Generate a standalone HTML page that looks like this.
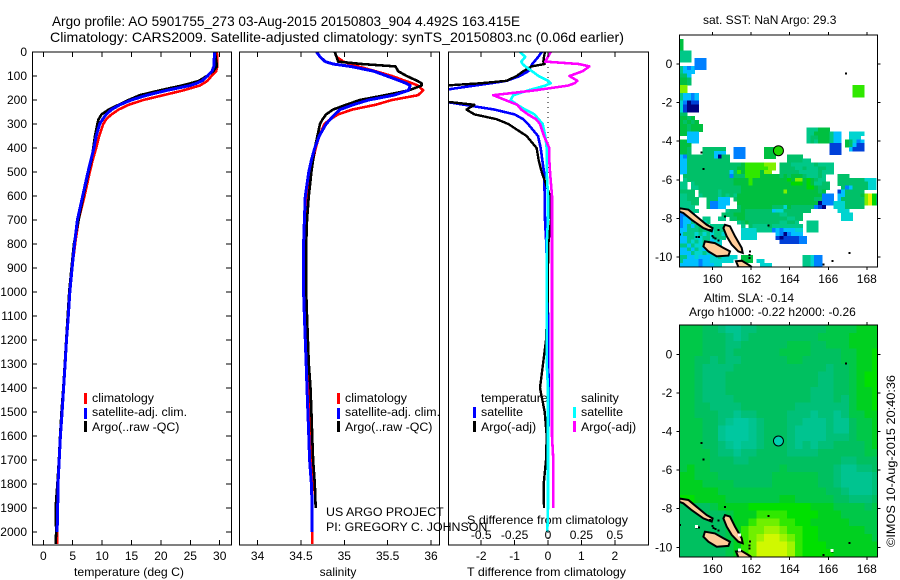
<!DOCTYPE html>
<html lang="en">
<head>
<meta charset="utf-8">
<title>Argo profile 5901755_273</title>
<style>
html,body{margin:0;padding:0;background:#fff;width:900px;height:580px;overflow:hidden}
svg{display:block}
text{font-family:"Liberation Sans",sans-serif;font-size:12px;fill:#000}
text.lg{font-size:12.4px}
</style>
</head>
<body>
<svg id="chart" xmlns="http://www.w3.org/2000/svg" width="900" height="580" viewBox="0 0 900 580">
  <text x="52" y="26" textLength="468" lengthAdjust="spacingAndGlyphs" style="font-size:14px">Argo profile: AO 5901755_273 03-Aug-2015 20150803_904 4.492S 163.415E</text>
  <text x="50" y="42" textLength="574" lengthAdjust="spacingAndGlyphs" style="font-size:14px">Climatology: CARS2009. Satellite-adjusted climatology: synTS_20150803.nc (0.06d earlier)</text>
  <text x="74" y="576" textLength="110" lengthAdjust="spacingAndGlyphs">temperature (deg C)</text>
  <text x="338" y="576" text-anchor="middle">salinity</text>
  <text x="467" y="576" textLength="159" lengthAdjust="spacingAndGlyphs">T difference from climatology</text>
  <text x="467" y="524" textLength="161" lengthAdjust="spacingAndGlyphs">S difference from climatology</text>
  <text class="lg" x="326" y="516">US ARGO PROJECT</text>
  <text class="lg" x="326" y="531">PI: GREGORY C. JOHNSON</text>
  <text x="703" y="24">sat. SST: NaN Argo: 29.3</text>
  <text x="704" y="302">Altim. SLA: -0.14</text>
  <text x="689" y="316">Argo h1000: -0.22 h2000: -0.26</text>
  <text transform="translate(895,547) rotate(-90)" textLength="172" lengthAdjust="spacingAndGlyphs">©IMOS 10-Aug-2015 20:40:36</text>

  <g>
    <rect x="84" y="393" width="3" height="11" fill="#f00"/>
    <text class="lg" x="92" y="402">climatology</text>
    <rect x="84" y="408" width="3" height="11" fill="#00f"/>
    <text class="lg" x="92" y="416">satellite-adj. clim.</text>
    <rect x="84" y="421" width="3" height="11" fill="#000"/>
    <text class="lg" x="92" y="431">Argo(..raw -QC)</text>
  </g>
  <g>
    <rect x="337" y="393" width="3" height="11" fill="#f00"/>
    <text class="lg" x="345" y="402">climatology</text>
    <rect x="337" y="408" width="3" height="11" fill="#00f"/>
    <text class="lg" x="345" y="416">satellite-adj. clim.</text>
    <rect x="337" y="421" width="3" height="11" fill="#000"/>
    <text class="lg" x="345" y="431">Argo(..raw -QC)</text>
  </g>
  <g id="diff-legend"></g>
</svg>
<script>
/* ---------- profile data ---------- */
var depths = [0,20,40,50,60,80,100,120,130,140,160,180,200,220,240,260,280,300,350,400,450,500,600,700,800,900,1000,1100,1200,1300,1400,1500,1600,1700,1800,1900,2000,2050];
var tempClim = [29.5,29.6,29.6,29.6,29.6,29.4,28.6,27.9,27.3,26.6,23.8,20.4,17,14.5,12.8,11.6,10.7,10.2,9.5,9,8.4,7.9,7,6,5.4,4.9,4.5,4.25,3.95,3.7,3.45,3.2,2.9,2.7,2.5,2.4,2.35,2.35];
var tempSat = [29.1,29.1,29,29,29,28.7,27.9,27,26.1,24.9,21,17.6,15,13,11.6,10.7,10.1,9.6,9,8.6,8.1,7.6,6.7,5.8,5.3,4.9,4.5,4.25,3.95,3.7,3.45,3.2,2.9,2.7,2.5,2.45,2.35,null];
var tempArgo = [29.2,29.3,29.4,29.5,29.5,28.9,27.8,26.5,25.1,23.5,19.8,16.4,14.5,12.8,11.1,9.9,9.4,9.2,8.8,8.5,8.2,7.7,6.8,6,5.2,4.8,4.4,4.15,3.9,3.65,3.4,3.1,2.85,2.65,2.4,2.1,2.2,2.1];
var salClim = [34.89,34.91,34.99,35.07,35.16,35.36,35.55,35.7,35.78,35.85,35.91,35.85,35.55,35.36,35.09,34.93,34.84,34.77,34.71,34.67,34.64,34.61,34.57,34.55,34.54,34.54,34.54,34.55,34.56,34.57,34.58,34.59,34.6,34.61,34.63,34.63,34.63,34.63];
var salSat = [34.68,34.72,34.78,34.87,35.07,35.34,35.49,35.64,35.71,35.76,35.74,35.57,35.28,35.1,34.95,34.89,34.84,34.79,34.71,34.66,34.62,34.59,34.55,34.54,34.53,34.53,34.53,34.54,34.55,34.56,34.57,34.58,34.59,34.6,34.62,34.63,34.63,null];
var salArgo = [34.89,34.91,34.93,35.2,35.59,35.62,35.72,35.84,35.89,35.89,35.74,35.47,35.18,35.02,34.87,34.79,34.75,34.72,34.69,34.66,34.64,34.62,34.59,34.57,34.56,34.56,34.56,34.57,34.58,34.59,34.61,34.62,34.63,34.64,34.66,34.67,null,null];
var diffTSat = [-0.19,-0.29,-0.41,-0.47,-0.51,-0.59,-0.84,-1.24,-1.7,-2.2,-3.2,-5,-3.4,-2.5,-1.6,-1,-0.74,-0.6,-0.3,-0.22,-0.17,-0.12,-0.1,-0.09,-0.05,-0.03,-0.01,0,0.01,0.01,0.02,0.02,0.01,0.01,0,null,null,null];
var diffTArgo = [-0.09,-0.12,-0.14,-0.1,-0.49,-0.74,-0.94,-1.24,-2,-3.1,-4,-4,-3.5,-2.2,-2.44,-2.2,-1.54,-1.19,-0.64,-0.34,-0.28,-0.19,0.06,0.09,0.01,0,0,-0.03,-0.06,-0.15,-0.24,-0.1,-0.04,-0.06,-0.13,-0.12,null,null];
var diffSSat = [-0.21,-0.17,-0.2,-0.19,-0.17,-0.12,-0.07,0,0.02,-0.02,-0.15,-0.26,-0.28,-0.23,-0.17,-0.1,-0.07,-0.04,-0.02,-0.01,-0.01,-0.01,0,0,-0.01,-0.01,-0.01,-0.01,-0.01,-0.01,0,0,0,0,0,0,-0.005,null];
var diffSArgo = [0.02,0,-0.02,0.23,0.31,0.26,0.16,0.22,0.2,0.15,-0.1,-0.41,-0.32,-0.23,-0.2,-0.15,-0.09,-0.06,-0.03,0.01,0.01,0.015,0.03,0.03,0.03,0.03,0.03,0.03,0.03,0.03,0.03,0.03,0.03,0.04,0.04,0.04,null,null];

/* ---------- axis tick values ---------- */
var depthTicks = [0,100,200,300,400,500,600,700,800,900,1000,1100,1200,1300,1400,1500,1600,1700,1800,1900,2000];
var tempTicks = [0,5,10,15,20,25,30];
var salTicks = [34,34.5,35,35.5,36];
var diffTTicks = [-2,-1,0,1,2];
var diffSTicks = [-0.5,-0.25,0,0.25,0.5];
var lonTicks = [160,162,164,166,168];
var latTicks = [0,-2,-4,-6,-8,-10];
var argoFloat = [163.415,-4.492];

/* ---------- SST map: one char per 0.2 degree cell, '.' = no data ---------- */
var sstLevels = {a:'#000080',b:'#0040d8',c:'#0080ff',d:'#00c0ff',e:'#00d4d0',f:'#00c888',g:'#00c068',h:'#00c040',i:'#00d800',j:'#30e800',k:'#80f000',l:'#e8f000'};
var sstRows = [
"",
"h",
"h",
"h",
"fff",
"fff",
"fff.ccc",
"....ccc",
"fdcdccc",
"fddd",
"ggd",
"hhg",
"hhg",
"kk........ .......... .......... .......... .....jjj",
"kk........ .......... .......... .......... .....jjj",
"fddcd..... .......... .......... .......... .....jjj",
"fddcd",
"ecabb",
"ebaaa",
"ebaaa",
"gg",
"hhgh",
"hghgh",
"hhghhh",
"hhghhh.... .......... .......... ...fffhhh.",
"hhddd..... .......... .......... ...ffhhhhf dd..eeee",
"..ddd..... .......... .......... ...fgghhhf dd..eee",
"hhddd..... .......... .......... ...fgfhhhf dd.hgecd",
"hhh....... .......... .......... .........b bb.hgdbb",
"hhg...gggg gg..ccc... ..hhh..... .........b bb..dbbb",
"hhg...gggd dd..ccc... ..hhh..... .........b bb",
"dcgggggggd agg.ccc... ..hhh...gg gg",
"ddgggggggg ggg....... ........gg ggff",
"ddgggggggg gggggghjjj jjkkk.gggf fffffgffff",
"ddgggggggg ggggghhjjj jjjkk.gggg ffgfffggff",
"ddgggggggg gggdgjhjjj jhkk..gggg gfffffgfff",
".ggggggggg gggcgggjjj jhhhhhghgh hhgfffgf.. .ggg",
".fgggggggg gggghhhhjh hhhhhhhhih kkhihgff.. .gggggggee e",
"ff.fgggggg gggghhhhjh hhhhhhhhhi iihihffgg. .gggggggge e",
"ff.ffggggg gggggghhhh hhhhhhhhhh hhhiihggg. ..gcdgggge e",
"gggg.ggggg fggggghhhh hhhhhhhkhh hhhhhhgh.. .bdggggg",
"ffgg.fgggg fgfgfhhhhh hhhhhhhhhh hhhhhhhccc .ddgggghkl ig",
"ffggg..ggg ddd.ghhhhh hhhhhhhhhh hhhhhggccc .dggggggkl ig",
"fffgg..gcc ddd..hhhhh hhhhhhhhhh hhhhhhaccc eeegggggkl ig",
"ffff...gcc dd...ghhhh hhhhgggehg gggggcba.. eeeggggg",
"effff..... ..fggghggg ggggdeeggg gggg...... .eee",
"ccfe...... .ggghhhggg ggggggffgg gg........ ..eee",
"cdde..ff.. ff.gghhggg ggggggggff gg........ ..eee",
"cddf.eef.. .....fghgg ggggggffgg f..fff....",
"cdfdfgf.ff ff....f.gf fffgffffff ff.fff....",
"ddfffgffef ff....eeee ffffcdcddd ee.fff....",
"dfffefefef fe....eeee .....dcacd dd",
"ddffeeffef ff....eeee .....babbb bcc",
"ddfefeffde e......... ......bbbb bcc",
"ffdfeefdfe e",
"ddfdfeddfe e",
"dddfeefedd e",
"ffddedddee feeee.hhh. .......... ..ffecc",
"fddddcddee eeee..hhh. ee........ ..ffecc",
"dddddcddde e....gg... .eee...... ..ffecc"
];

/* ---------- sea level map: one char per 0.4 degree cell ---------- */
var slaLevels = {'0':'#00c8a0','1':'#00c490','2':'#00c078','3':'#00c060','4':'#00c848','5':'#00d020','6':'#00e000','7':'#30e800','8':'#70f000','9':'#a0f400','a':'#d0f800'};
var slaRows = [
"44433211223333333334444555",
"44433321233333333344445555",
"44433322333333444334445555",
"44433323333334444333344556",
"44332322333333443333344556",
"44322223333333333332334556",
"44322233333333333322334566",
"44322233333333333322334566",
"44322233333333333222334556",
"44322223333333333222324556",
"44332222333333322222224556",
"44333221223333222122124455",
"44433210012333221112113445",
"44433100012333211112113445",
"44433100012333211112223445",
"44433210112333212122333345",
"44443221223333222233333344",
"44443332233333333333322333",
"45443333333334333333211223",
"55444333333344444433211112",
"55544443333344444433211112",
"55555444444444444443321112",
"66555544444445544444332223",
"33334555566666666555444434",
"33333345557777666655544444",
"33333345578887766555554444",
"33333345788998776655555544",
"33333345789aa9876655555554",
"3333334578aaaa976665555555",
"3333334578aaaa976666555555"
];

/* ---------- coastlines as lon/lat ---------- */
var islandA = [[158.27,-7.47],[158.74,-7.55],[159.17,-7.9],[159.69,-8.33],[160,-8.5],[159.95,-8.67],[159.52,-8.5],[158.91,-8.07],[158.48,-7.72],[158.27,-7.64]];
var islandB = [[160.64,-8.33],[160.9,-8.41],[161.16,-8.93],[161.51,-9.53],[161.56,-9.79],[161.33,-9.71],[160.99,-9.36],[160.73,-8.93],[160.56,-8.5]];
var islandC = [[159.6,-9.19],[160.12,-9.28],[160.56,-9.53],[160.9,-9.71],[160.82,-9.93],[160.21,-9.97],[159.78,-9.71],[159.52,-9.45]];
var islandD = [[161.21,-10.22],[161.51,-10.19],[161.94,-10.45],[162.03,-10.53],[161.34,-10.53]];
var islets = [[160.04,-9],[160.15,-9.05],[160.3,-9.14],[160,-8.9],[159.86,-8.59],[160.3,-8.6],[160.64,-7.9],[159.17,-8.97],[159.28,-8.97],[158.3,-8.84],[161.94,-9.71],[161.9,-9.9],[161.9,-10.05],[159.43,-4.59],[159.52,-5.45],[166.93,-0.48],[162.9,-8.38],[167.1,-9.79],[166.22,-10.22],[165.75,-10.4]];
var noDataSpots = [[159.16,-8.93],[161.4,-9.36],[161.4,-10.14],[166.2,-10.17]];

/* ---------- drawing ---------- */
var svg = document.getElementById('chart');
var NS = 'http://www.w3.org/2000/svg';
function mk(tag, attrs, parent) {
  var el = document.createElementNS(NS, tag);
  for (var k in attrs) el.setAttribute(k, attrs[k]);
  (parent || svg).appendChild(el);
  return el;
}
var depthY = function (d) { return 52 + d * 0.24; };
var PANEL_TOP = 52, PANEL_BOTTOM = 545;
var tempX = function (t) { return 43.3 + t * 5.88; };
var salX = function (s) { return 257.6 + (s - 34) * 86.7; };
var diffTX = function (t) { return 548 + t * 33.4; };
var diffSX = function (s) { return 548 + s * 133.6; };

function drawCurve(parent, values, xFn, color, width, name) {
  var pts = [];
  for (var i = 0; i < depths.length; i++) {
    if (values[i] === null) continue;
    pts.push(xFn(values[i]).toFixed(1) + ',' + depthY(depths[i]).toFixed(1));
  }
  var line = mk('polyline', {points: pts.join(' '), fill: 'none', stroke: color, 'stroke-width': width, 'stroke-linejoin': 'round', 'shape-rendering': 'crispEdges'}, parent);
  
  
}
function frame(x0, x1, y0, y1, name) {
  var r = mk('rect', {x: x0, y: y0, width: x1 - x0, height: y1 - y0, fill: 'none', stroke: '#000', 'stroke-width': 1, 'shape-rendering': 'crispEdges'});
  
  
}
function tick(x1, y1, x2, y2) {
  var t = mk('line', {x1: x1, y1: y1, x2: x2, y2: y2, stroke: '#000', 'stroke-width': 1, 'shape-rendering': 'crispEdges'});
  
  
}
function label(str, x, y, anchor) {
  var t = mk('text', {x: x, y: y, 'text-anchor': anchor});
  t.textContent = str;
  
  
}
function clipFor(id, x0, x1) {
  var c = mk('clipPath', {id: id});
  mk('rect', {x: x0, y: PANEL_TOP, width: x1 - x0, height: PANEL_BOTTOM - PANEL_TOP}, c);
}

/* temperature panel */
clipFor('clip-t', 32, 232);
var gT = mk('g', {'clip-path': 'url(#clip-t)'});


drawCurve(gT, tempClim, tempX, '#f00', 2.6, 'temperature-climatology-line');
drawCurve(gT, tempArgo, tempX, '#000', 2.6, 'temperature-argo-line');
drawCurve(gT, tempSat, tempX, '#00f', 3, 'temperature-satellite-line');
frame(32.5, 231.5, PANEL_TOP, PANEL_BOTTOM, 'temperature-panel-frame');
depthTicks.forEach(function (d) {
  tick(32, depthY(d), 37, depthY(d));
  tick(226, depthY(d), 231, depthY(d));
  label(String(d), 27, depthY(d) + 4, 'end');
});
tempTicks.forEach(function (t) {
  tick(tempX(t), PANEL_TOP, tempX(t), PANEL_TOP + 5);
  tick(tempX(t), PANEL_BOTTOM - 5, tempX(t), PANEL_BOTTOM);
  label(String(t), tempX(t), 560, 'middle');
});

/* salinity panel */
clipFor('clip-s', 240, 440);
var gS = mk('g', {'clip-path': 'url(#clip-s)'});


drawCurve(gS, salClim, salX, '#f00', 2.6, 'salinity-climatology-line');
drawCurve(gS, salArgo, salX, '#000', 2.6, 'salinity-argo-line');
drawCurve(gS, salSat, salX, '#00f', 3, 'salinity-satellite-line');
frame(239.5, 439.5, PANEL_TOP, PANEL_BOTTOM, 'salinity-panel-frame');
salTicks.forEach(function (s) {
  tick(salX(s), PANEL_TOP, salX(s), PANEL_TOP + 5);
  tick(salX(s), PANEL_BOTTOM - 5, salX(s), PANEL_BOTTOM);
  label(String(s), salX(s), 560, 'middle');
});

/* difference panel */
clipFor('clip-d', 448.5, 649);
var gD = mk('g', {'clip-path': 'url(#clip-d)'});


var zero = mk('line', {x1: diffTX(0), y1: depthY(0), x2: diffTX(0), y2: PANEL_BOTTOM, stroke: '#000', 'stroke-width': 1, 'stroke-dasharray': '1 4', 'shape-rendering': 'crispEdges'}, gD);


drawCurve(gD, diffTSat, diffTX, '#00f', 2.6, 'difference-t-satellite-line');
drawCurve(gD, diffTArgo, diffTX, '#000', 2.4, 'difference-t-argo-line');
drawCurve(gD, diffSSat, diffSX, '#0ff', 2.6, 'difference-s-satellite-line');
drawCurve(gD, diffSArgo, diffSX, '#f0f', 2.6, 'difference-s-argo-line');
frame(448.5, 648.5, PANEL_TOP, PANEL_BOTTOM, 'difference-panel-frame');
diffTTicks.forEach(function (t) {
  tick(diffTX(t), PANEL_TOP, diffTX(t), PANEL_TOP + 5);
  tick(diffTX(t), PANEL_BOTTOM - 5, diffTX(t), PANEL_BOTTOM);
  label(String(t), diffTX(t), 560, 'middle');
});
diffSTicks.forEach(function (s) {
  label(String(s), diffSX(s), 539, 'middle');
});

/* difference legend */
var dl = document.getElementById('diff-legend');
var dlText = [['temperature', 481, 402], ['satellite', 481, 416], ['Argo(-adj)', 481, 431], ['salinity', 581, 402], ['satellite', 581, 416], ['Argo(-adj)', 581, 431]];
dlText.forEach(function (d) {
  var t = mk('text', {x: d[1], y: d[2], 'class': 'lg'}, dl);
  t.textContent = d[0];
  
  
});
var dlBars = [[473, 407, '#00f'], [473, 421, '#000'], [573, 407, '#0ff'], [573, 421, '#f0f']];
dlBars.forEach(function (b) {
  var r = mk('rect', {x: b[0], y: b[1], width: 3, height: 11, fill: b[2]}, dl);
  
  
});

/* maps */
var MAP_LEFT = 679.3, MAP_RIGHT = 877.3, LON_LEFT = 158.27, PX_PER_DEG = 19.27;
var lonX = function (lon) { return MAP_LEFT + (lon - LON_LEFT) * PX_PER_DEG; };
function latYFor(zeroY) { return function (lat) { return zeroY - lat * 19.3; }; }

function drawCells(group, rows, levels, cellDeg, latY) {
  rows.forEach(function (row, r) {
    var s = row.replace(/ /g, '');
    for (var c = 0; c < s.length; c++) {
      var col = levels[s.charAt(c)];
      if (!col) continue;
      var lon = LON_LEFT + c * cellDeg;
      var lat = 1.5 - r * cellDeg;
      var x0 = lonX(lon), y0 = latY(lat);
      var cell = mk('rect', {x: x0.toFixed(1), y: y0.toFixed(1), width: (lonX(lon + cellDeg) - x0 + 0.4).toFixed(1), height: (latY(lat - cellDeg) - y0 + 0.4).toFixed(1), fill: col, 'shape-rendering': 'crispEdges'}, group);
      
      
    }
  });
}
function drawLand(group, latY, showNoData) {
  [islandA, islandB, islandC, islandD].forEach(function (isl) {
    var pts = isl.map(function (p) { return lonX(p[0]).toFixed(1) + ',' + latY(p[1]).toFixed(1); }).join(' ');
    var poly = mk('polygon', {points: pts, fill: '#ffcc99', stroke: '#000', 'stroke-width': 2}, group);
    
    
  });
  islets.forEach(function (p) {
    var blob = mk('rect', {x: lonX(p[0]) - 1, y: latY(p[1]) - 1, width: 2, height: 2, fill: '#000', 'shape-rendering': 'crispEdges'}, group);
    
    
  });
  if (showNoData) noDataSpots.forEach(function (p) {
    var spot = mk('rect', {x: lonX(p[0]) - 1.5, y: latY(p[1]) - 1.5, width: 3, height: 3, fill: '#fff', 'shape-rendering': 'crispEdges'}, group);
    
    
  });
}
function mapAxes(top, bottom, latY) {
  lonTicks.forEach(function (lon) {
    tick(lonX(lon), top - 3, lonX(lon), top);
    tick(lonX(lon), bottom, lonX(lon), bottom + 3);
    label(String(lon), lonX(lon), bottom + 16, 'middle');
  });
  latTicks.forEach(function (lat) {
    tick(MAP_LEFT - 3, latY(lat), MAP_LEFT, latY(lat));
    tick(MAP_RIGHT, latY(lat), MAP_RIGHT + 3, latY(lat));
    label(String(lat), MAP_LEFT - 7, latY(lat) + 4, 'end');
  });
}
function mapClip(id, top, bottom) {
  var c = mk('clipPath', {id: id});
  mk('rect', {x: MAP_LEFT, y: top, width: MAP_RIGHT - MAP_LEFT, height: bottom - top}, c);
}

/* SST map */
var sstTop = 35, sstBottom = 267, sstLat = latYFor(64);
mapClip('clip-sst', sstTop, sstBottom);
var gSst = mk('g', {'clip-path': 'url(#clip-sst)'});


drawCells(gSst, sstRows, sstLevels, 0.2, sstLat);
drawLand(gSst, sstLat, false);
frame(MAP_LEFT, MAP_RIGHT, sstTop, sstBottom, 'sst-map-frame');
mapAxes(sstTop, sstBottom, sstLat);
var m1o = mk('circle', {cx: lonX(argoFloat[0]), cy: sstLat(argoFloat[1]), r: 5, fill: '#20d800', stroke: '#000', 'stroke-width': 1});



/* SLA map */
var slaTop = 325, slaBottom = 557, slaLat = latYFor(354.3);
mapClip('clip-sla', slaTop, slaBottom);
var gSla = mk('g', {'clip-path': 'url(#clip-sla)'});


drawCells(gSla, slaRows, slaLevels, 0.4, slaLat);
drawLand(gSla, slaLat, true);
frame(MAP_LEFT, MAP_RIGHT, slaTop, slaBottom, 'sla-map-frame');
mapAxes(slaTop, slaBottom, slaLat);
var m2o = mk('circle', {cx: lonX(argoFloat[0]), cy: slaLat(argoFloat[1]), r: 5, fill: '#00d0b0', stroke: '#000', 'stroke-width': 1});


</script>
</body>
</html>
